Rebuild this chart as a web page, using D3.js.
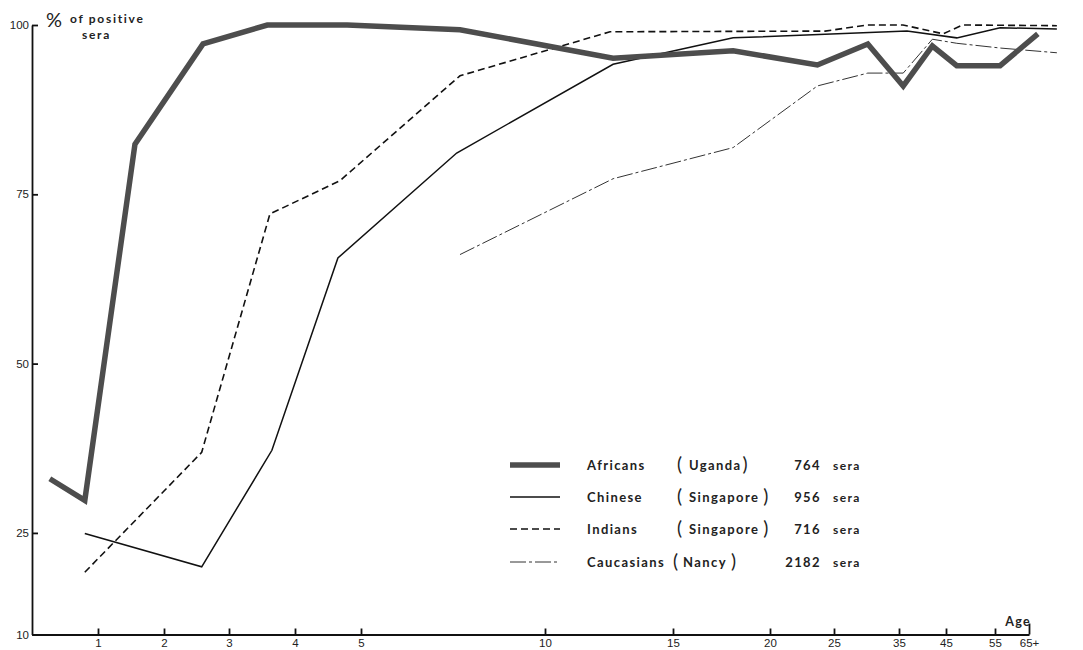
<!DOCTYPE html>
<html>
<head>
<meta charset="utf-8">
<script src="https://cdn.jsdelivr.net/npm/d3@7"></script>
<style>
body { margin: 0; background: #fff; }
svg { display: block; font-family: "Liberation Sans", Arial, sans-serif; }
.axis path, .axis line { stroke: #111; stroke-width: 1.8px; }
.axis text { font-size: 11.5px; fill: #222; }
.legend text, .title text { font-family: Lato, "Open Sans", sans-serif; font-weight: 700; font-size: 13px; letter-spacing: 1.4px; fill: #222; }
.line { fill: none; }
</style>
</head>
<body>
<svg width="1083" height="650"></svg>
<script>
// age axis is stretched piecewise, ticks as printed
const AGE_TICKS = [0, 1, 2, 3, 4, 5, 10, 15, 20, 25, 35, 45, 55, 65]
const AGE_LABELS = ["1", "2", "3", "4", "5", "10", "15", "20", "25", "35", "45", "55", "65+"]
const PCT_TICKS = [10, 25, 50, 75, 100]

const africansAge = [0.27, 0.8, 1.56, 2.6, 3.58, 4.79, 7.69, 12.66, 18.1, 23.7, 30.2, 35.9, 42.1, 47.2, 56.5, 67.6]
const africansPct = [33.0, 29.8, 82.4, 97.2, 100, 100, 99.3, 95.1, 96.2, 94.1, 97.2, 91.0, 96.9, 94.0, 94.0, 98.7]

const chineseAge = [0.8, 2.58, 3.65, 4.65, 7.6, 12.66, 18.1, 36.7, 47.2, 56.5, 73.2]
const chinesePct = [24.9, 20.0, 37.2, 65.6, 81.1, 94.2, 98.1, 99.1, 98.1, 99.6, 99.4]

const indiansAge = [0.8, 2.58, 3.62, 4.68, 7.69, 12.54, 24.3, 30.15, 35.85, 44.4, 48.4, 73.2]
const indiansPct = [19.2, 36.9, 72.1, 77.0, 92.5, 99.0, 99.1, 100, 100, 98.7, 100, 99.9]

const caucasiansAge = [7.69, 12.66, 18.1, 23.7, 30.2, 35.9, 42.1, 47.2, 56.5, 73.2]
const caucasiansPct = [66.1, 77.3, 81.9, 91.0, 92.9, 92.9, 97.9, 97.3, 96.6, 95.9]

const SERIES = ["Africans", "Chinese", "Indians", "Caucasians"]
const REGIONS = ["Uganda", "Singapore", "Singapore", "Nancy"]
const SERA = [764, 956, 716, 2182]

// tick pixel positions along the printed axis
const xStops = [32, 98, 164, 229, 295, 361, 545, 673, 770, 834, 899, 946, 995, 1029]

const x = d3.scaleLinear().domain(AGE_TICKS).range(xStops);
const y = d3.scaleLinear().domain([10, 100]).range([634.5, 25]);

const svg = d3.select("svg");

const styles = [
    { stroke: "#4d4d4d", width: 5.5, dash: null },
    { stroke: "#111", width: 1.5, dash: null },
    { stroke: "#111", width: 1.6, dash: "7,4" },
    { stroke: "#333", width: 1, dash: "16,3,3,3" }
];

const series = [
    d3.zip(africansAge, africansPct),
    d3.zip(chineseAge, chinesePct),
    d3.zip(indiansAge, indiansPct),
    d3.zip(caucasiansAge, caucasiansPct)
];

const valueline = d3.line()
    .x(d => x(d[0]))
    .y(d => y(d[1]));

// axes
const xAxis = svg.append("g")
    .attr("class", "axis")
    .attr("transform", "translate(0," + y(10) + ")")
    .call(d3.axisBottom(x)
        .tickValues(AGE_TICKS.slice(1))
        .tickFormat((d, i) => AGE_LABELS[i])
        .tickSize(-6)
        .tickSizeOuter(0)
        .tickPadding(4));

xAxis.selectAll(".tick line")
    .filter(d => d === 65)
    .attr("y2", -11);

svg.append("g")
    .attr("class", "axis")
    .attr("transform", "translate(" + x(0) + ",0)")
    .call(d3.axisLeft(y)
        .tickValues(PCT_TICKS)
        .tickSize(-6)
        .tickSizeOuter(0)
        .tickPadding(3));

svg.selectAll(".axis .domain").attr("stroke-width", 2);

svg.append("text")
    .attr("x", 1031)
    .attr("y", 626)
    .attr("text-anchor", "end")
    .style("font-family", "Lato, sans-serif")
    .style("font-weight", 700)
    .style("font-size", "12.5px")
    .style("letter-spacing", "1.3px")
    .style("fill", "#222")
    .text("Age");

// y title
const title = svg.append("g").attr("class", "title");
title.append("text")
    .attr("x", 46)
    .attr("y", 27)
    .style("font-size", "20px")
    .style("font-weight", 400)
    .style("letter-spacing", "0px")
    .text("%");
title.append("text")
    .attr("x", 70)
    .attr("y", 23)
    .style("font-size", "12px")
    .style("letter-spacing", "1.7px")
    .text("of positive");
title.append("text")
    .attr("x", 82)
    .attr("y", 39)
    .style("font-size", "12px")
    .style("letter-spacing", "1.7px")
    .text("sera");

// lines, thin ones first
[3, 2, 1, 0].forEach(function (i)
{
    svg.append("path")
        .datum(series[i])
        .attr("class", "line")
        .attr("d", valueline)
        .attr("stroke", styles[i].stroke)
        .attr("stroke-width", styles[i].width)
        .attr("stroke-dasharray", styles[i].dash)
        .attr("stroke-linejoin", "miter");
});

// legend
const rowsY = [465, 497, 529, 562];
const legend = svg.append("g").attr("class", "legend");

SERIES.forEach(function (name, i)
{
    const row = legend.append("g")
        .attr("transform", "translate(0," + rowsY[i] + ")");

    row.append("line")
        .attr("x1", 510)
        .attr("x2", 560)
        .attr("stroke", styles[i].stroke)
        .attr("stroke-width", styles[i].width)
        .attr("stroke-dasharray", styles[i].dash);

    row.append("text")
        .attr("x", 587)
        .attr("y", 5)
        .text(name);

    const reg = row.append("text")
        .attr("x", i === 3 ? 673 : 677)
        .attr("y", 6);
    reg.append("tspan")
        .style("font-size", "19px")
        .style("font-weight", 400)
        .style("letter-spacing", "0px")
        .text("(");
    reg.append("tspan")
        .attr("dx", i === 3 ? 5 : 7)
        .attr("dy", -1)
        .text(REGIONS[i]);
    reg.append("tspan")
        .attr("dx", i === 0 ? 1 : 4)
        .attr("dy", 1)
        .style("font-size", "19px")
        .style("font-weight", 400)
        .style("letter-spacing", "0px")
        .text(")");

    row.append("text")
        .attr("x", 821)
        .attr("y", 5)
        .attr("text-anchor", "end")
        .text(SERA[i]);

    row.append("text")
        .attr("x", 833)
        .attr("y", 5)
        .style("font-size", "12px")
        .text("sera");
});
</script>
</body>
</html>
